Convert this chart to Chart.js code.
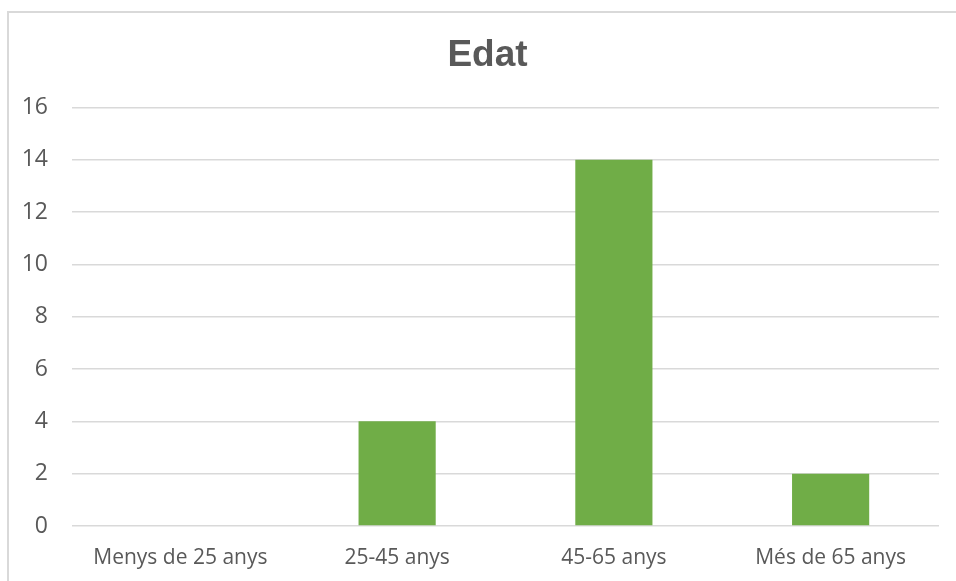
<!DOCTYPE html>
<html>
<head>
<meta charset="utf-8">
<title>Edat</title>
<script src="https://cdn.jsdelivr.net/npm/chart.js@4.4.1/dist/chart.umd.min.js"></script>
<style>
    html, body {
        margin: 0;
        padding: 0;
        background: #ffffff;
        overflow: hidden;
    }
    #wrap {
        position: relative;
        width: 956px;
        height: 581px;
    }
    #marco {
        position: absolute;
        left: 7px;
        top: 11px;
        width: 1000px;
        height: 700px;
        border-left: 2px solid #d9d9d9;
        border-top: 2px solid #d9d9d9;
    }
    #edatChart {
        position: absolute;
        left: 0;
        top: 0;
    }
</style>
</head>
<body>
<div id="wrap">
    <div id="marco"></div>
    <canvas id="edatChart"></canvas>
</div>
<script>
// --- Datos ---
const categorias = ['Menys de 25 anys', '25-45 anys', '45-65 anys', 'Més de 65 anys'];
const valores = [0, 4, 14, 2];
const tituloGrafico = 'Edat';
const ejeYMin = 0;
const ejeYMax = 16;
const ejeYPaso = 2;

const COLOR_TEXTO = '#595959';
const COLOR_BARRA = '#70ad47';
const COLOR_REJILLA = '#d9d9d9';

// El título va centrado sobre el marco completo, no sobre el canvas
const centrarTitulo = {
    id: 'centrarTitulo',
    afterLayout(chart) {
        if (chart.titleBlock) {
            chart.titleBlock.left = 7;
            chart.titleBlock.right = 968;
        }
    }
};

// --- Gráfico de barras ---
function renderEdatChart() {
    const ctx = document.getElementById('edatChart').getContext('2d');
    new Chart(ctx, {
        type: 'bar',
        data: {
            labels: categorias,
            datasets: [{
                label: tituloGrafico,
                data: valores,
                backgroundColor: COLOR_BARRA,
                borderWidth: 0,
                barPercentage: 0.356,
                categoryPercentage: 1
            }]
        },
        options: {
            responsive: true,
            maintainAspectRatio: false,
            animation: false,
            layout: {
                padding: { left: 0, right: 17, top: 0, bottom: 0 }
            },
            scales: {
                x: {
                    grid: { display: false, drawTicks: false },
                    border: { display: false },
                    ticks: {
                        color: COLOR_TEXTO,
                        padding: 19,
                        maxRotation: 0,
                        font: { family: 'Open Sans', size: 21 }
                    },
                    afterFit: function(scale) {
                        scale.height = 55;
                    }
                },
                y: {
                    min: ejeYMin,
                    max: ejeYMax,
                    grid: {
                        color: COLOR_REJILLA,
                        lineWidth: 1.5,
                        drawTicks: false
                    },
                    border: { display: false },
                    ticks: {
                        stepSize: ejeYPaso,
                        color: COLOR_TEXTO,
                        padding: 24,
                        font: { family: 'Open Sans', size: 23 }
                    },
                    afterFit: function(scale) {
                        scale.width = 72;
                    }
                }
            },
            plugins: {
                legend: { display: false },
                tooltip: { enabled: false },
                title: {
                    display: true,
                    text: tituloGrafico,
                    color: COLOR_TEXTO,
                    font: { family: 'Liberation Sans', size: 37, weight: 'bold', lineHeight: 1.2 },
                    padding: { top: 34, bottom: 29 }
                }
            }
        },
        plugins: [centrarTitulo]
    });
}

// --- Inicialización ---
window.onload = function() {
    renderEdatChart();
};
</script>
</body>
</html>
